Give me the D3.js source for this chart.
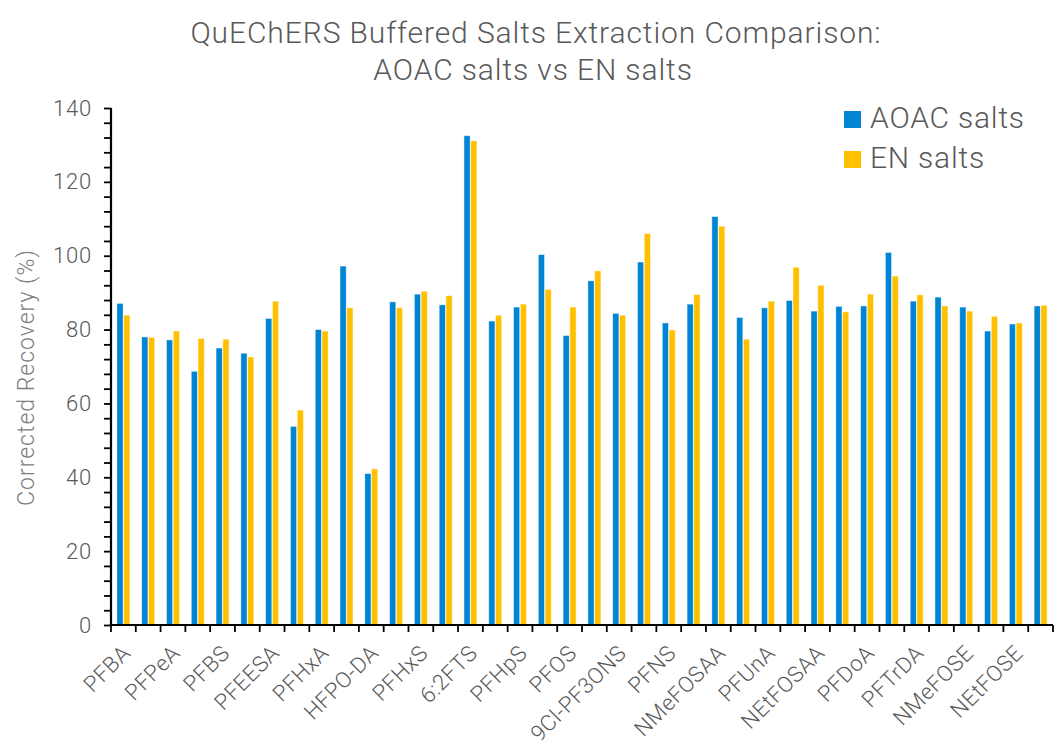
<!DOCTYPE html>
<html lang="en">
<head>
    <meta charset="UTF-8">
    <title>QuEChERS salts comparison</title>
    <style>
        body { margin: 0; background: #fff; }
        svg text { font-family: Roboto, "Open Sans", sans-serif; font-weight: 300; fill: #595959; }
        .axis path, .axis line { stroke: #000; }
    </style>
</head>
<body>
    <div id="chart"></div>
    <script src="https://cdn.jsdelivr.net/npm/d3@7"></script>
    <script>

        // compounds, every other name is shown on the axis
        var compounds = ["PFBA", "PFMPA", "PFPeA", "PFMBA", "PFBS", "4:2FTS", "PFEESA", "NFDHA",
            "PFHxA", "PFPeS", "HFPO-DA", "PFHpA", "PFHxS", "ADONA", "6:2FTS", "PFOA", "PFHpS", "PFNA",
            "PFOS", "PFDA", "9Cl-PF3ONS", "8:2FTS", "PFNS", "PFDS", "NMeFOSAA", "PFOSA", "PFUnA", "NMeFOSA",
            "NEtFOSAA", "11Cl-PF3OUdS", "PFDoA", "NEtFOSA", "PFTrDA", "PFTeDA", "NMeFOSE", "PFDoS", "NEtFOSE", "PFHxDA"];

        var aoac = [87.1, 78.0, 77.2, 68.7, 75.0, 73.6, 83.0, 53.8, 80.0, 97.2,
            41.0, 87.5, 89.6, 86.7, 132.5, 82.3, 86.1, 100.3, 78.4, 93.2,
            84.4, 98.3, 81.8, 86.9, 110.6, 83.3, 85.9, 87.9, 85.0, 86.3,
            86.4, 100.9, 87.7, 88.8, 86.1, 79.6, 81.5, 86.4];

        var en = [83.9, 77.9, 79.6, 77.6, 77.4, 72.6, 87.7, 58.2, 79.6, 85.9,
            42.3, 85.9, 90.4, 89.2, 131.1, 83.9, 86.9, 90.9, 86.1, 95.9,
            83.9, 106.0, 79.9, 89.5, 108.0, 77.4, 87.7, 96.9, 92.0, 84.8,
            89.6, 94.5, 89.4, 86.4, 85.0, 83.6, 81.8, 86.6];

        var seriesNames = ["AOAC salts", "EN salts"];
        var colors = ["#0084d4", "#ffc000"];

        var width = 1054, height = 746;
        var margin = {top: 108, right: 1, bottom: 121, left: 111};

        var svg = d3.select("#chart").append("svg")
            .attr("width", width)
            .attr("height", height);

        var x = d3.scaleBand()
            .domain(compounds)
            .range([margin.left, width - margin.right]);

        var x1 = d3.scaleBand()
            .domain(seriesNames)
            .range([x.bandwidth() / 2 - 6.5, x.bandwidth() / 2 + 6.5])
            .paddingInner(0.08);

        var y = d3.scaleLinear()
            .domain([0, 140])
            .range([height - margin.bottom, margin.top]);

        // title
        var title = svg.append("text")
            .attr("text-anchor", "middle")
            .style("font-size", "30px")
            .style("letter-spacing", "0.9px");
        title.append("tspan").attr("x", 536).attr("y", 43)
            .text("QuEChERS Buffered Salts Extraction Comparison:");
        title.append("tspan").attr("x", 533).attr("y", 80)
            .text("AOAC salts vs EN salts");

        // bars
        var rows = compounds.map(function(c, i) { return {name: c, values: [aoac[i], en[i]]}; });

        var groups = svg.append("g").selectAll("g")
            .data(rows)
            .enter().append("g")
            .attr("transform", d => "translate(" + x(d.name) + ",0)");

        groups.selectAll("rect")
            .data(d => d.values.map((v, j) => ({key: seriesNames[j], value: v, j: j})))
            .enter().append("rect")
            .attr("x", d => x1(d.key))
            .attr("width", x1.bandwidth())
            .attr("y", d => y(d.value))
            .attr("height", d => y(0) - y(d.value))
            .attr("fill", d => colors[d.j])
            .attr("stroke", "#fff")
            .attr("stroke-opacity", 0.6)
            .attr("stroke-width", 0.8);

        // y axis
        var yAxis = svg.append("g")
            .attr("class", "axis")
            .attr("transform", "translate(" + margin.left + ",0)")
            .call(d3.axisLeft(y).tickValues(d3.range(0, 141, 4)).tickSize(7)
                .tickFormat(d => d % 20 === 0 ? d : ""));
        yAxis.select(".domain").attr("stroke-width", 2.2).attr("d", "M0," + y(140) + "V" + y(0));
        yAxis.selectAll(".tick line").attr("stroke-width", 1.8);
        yAxis.selectAll(".tick text")
            .attr("x", -19)
            .style("font-size", "22px")
            .style("letter-spacing", "0.8px")
            .style("font-family", "Roboto, sans-serif");

        // x axis
        var xAxis = svg.append("g")
            .attr("class", "axis")
            .attr("transform", "translate(0," + y(0) + ")");
        xAxis.append("line")
            .attr("x1", margin.left - 1).attr("x2", width - margin.right)
            .attr("stroke", "#000").attr("stroke-width", 2.2);
        xAxis.selectAll("line.tick")
            .data(d3.range(compounds.length + 1))
            .enter().append("line")
            .attr("class", "tick")
            .attr("x1", i => margin.left + i * x.step())
            .attr("x2", i => margin.left + i * x.step())
            .attr("y1", 0).attr("y2", 7)
            .attr("stroke", "#000").attr("stroke-width", 1.8);

        xAxis.selectAll("text")
            .data(compounds.filter((c, i) => i % 2 === 0))
            .enter().append("text")
            .attr("transform", d => "translate(" + (x(d) + x.bandwidth() / 2 + 3) + ",24) rotate(-45)")
            .attr("text-anchor", "end")
            .attr("dy", "0.35em")
            .style("font-size", "22px")
            .style("letter-spacing", "0.5px")
            .text(d => d);

        // y title
        svg.append("text")
            .attr("transform", "translate(34," + ((y(0) + y(140)) / 2 + 11) + ") rotate(-90)")
            .attr("text-anchor", "middle")
            .style("font-size", "23px")
            .style("letter-spacing", "1px")
            .style("fill", "#808080")
            .text("Corrected Recovery (%)");

        // legend
        var legend = svg.append("g").selectAll("g")
            .data(seriesNames)
            .enter().append("g")
            .attr("transform", (d, i) => "translate(844," + (111 + i * 40) + ")");
        legend.append("rect")
            .attr("width", 17).attr("height", 17)
            .attr("fill", (d, i) => colors[i]);
        legend.append("text")
            .attr("x", 26).attr("y", 17)
            .style("font-size", "30px")
            .style("letter-spacing", "0.8px")
            .text(d => d);
    </script>
</body>
</html>
